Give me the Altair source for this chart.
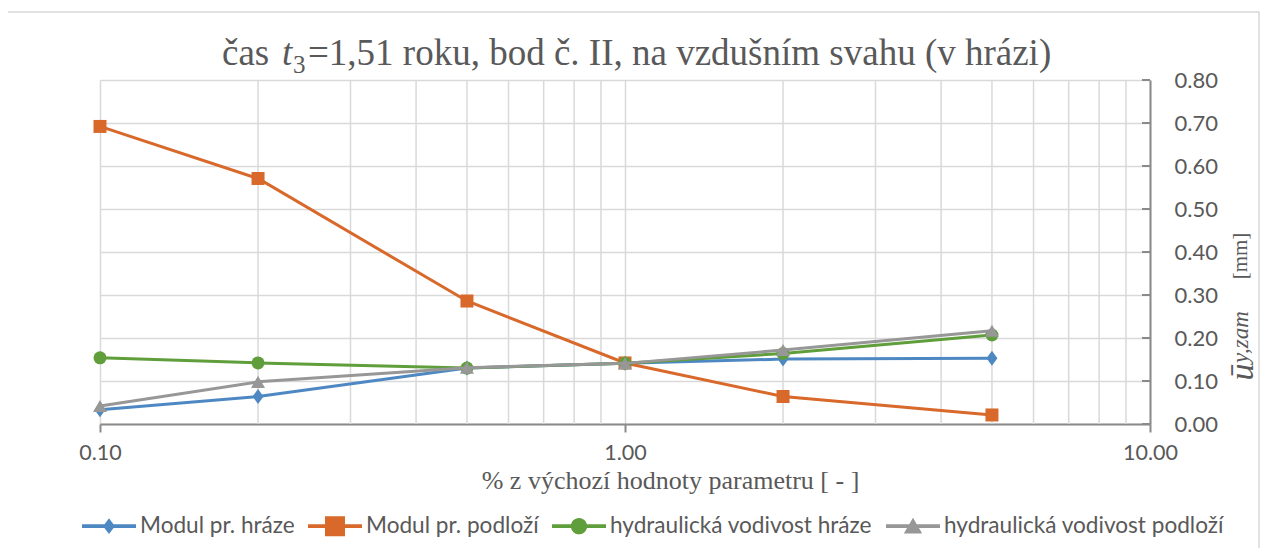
import altair as alt
import pandas as pd

# ---------------- data ----------------
x_values = [0.1, 0.2, 0.5, 1.0, 2.0, 5.0]
series_names = ["Modul pr. hráze", "Modul pr. podloží",
                "hydraulická vodivost hráze", "hydraulická vodivost podloží"]
modul_hraze = [0.033, 0.064, 0.130, 0.141, 0.151, 0.153]
modul_podlozi = [0.692, 0.571, 0.286, 0.142, 0.064, 0.021]
vodivost_hraze = [0.154, 0.142, 0.130, 0.141, 0.164, 0.207]
vodivost_podlozi = [0.042, 0.098, 0.131, 0.141, 0.172, 0.217]
series_values = [modul_hraze, modul_podlozi, vodivost_hraze, vodivost_podlozi]
series_colors = ["#4E88C3", "#D8692A", "#5F9E3A", "#979797"]

x_decades = [0.1, 1.0, 10.0]
x_minor = [0.2, 0.3, 0.4, 0.5, 0.6, 0.7, 0.8, 0.9, 2, 3, 4, 5, 6, 7, 8, 9]
y_ticks = [0.0, 0.1, 0.2, 0.3, 0.4, 0.5, 0.6, 0.7, 0.8]

title_parts = ["čas", "t", "3", "=1,51 roku, bod č. II, na vzdušním svahu (v hrázi)"]
x_title = "% z výchozí hodnoty parametru [ - ]"
y_title_parts = ["ū", "y,zam", "[mm]"]

# ---------------- styles ----------------
W, H = 1050, 344
TXT = "#595959"
AX = "#8a8a8a"
GRID = "#d9d9d9"
SANS = "Lato"
SERIF = "Liberation Serif"

plot_shapes = ["M0,-1L0.73,0L0,1L-0.73,0Z", "square", "circle", "triangle-up"]
plot_sizes = [225, 169, 169, 196]
LEG_SIZE = 2916
line_path = "M-1,-0.07H1V0.07H-1Z"
legend_paths = [
    line_path + "M0,-0.29L0.22,0L0,0.29L-0.22,0Z",
    line_path + "M-0.37,-0.37H0.37V0.37H-0.37Z",
    line_path + "M-0.3,0A0.3,0.3,0,1,1,0.3,0A0.3,0.3,0,1,1,-0.3,0Z",
    line_path + "M0,-0.31L0.34,0.27L-0.34,0.27Z",
]

rows = []
for name, vals in zip(series_names, series_values):
    for xv, yv in zip(x_values, vals):
        rows.append({"x": xv, "y": yv, "series": name})
df = pd.DataFrame(rows)

xs = alt.Scale(type="log", domain=[0.1, 10])
ys = alt.Scale(domain=[0, 0.8])

x_axis = alt.Axis(
    values=x_decades, format=".2f", grid=True, gridColor=GRID, gridWidth=1.5,
    domainColor=AX, domainWidth=2, tickColor=AX, tickWidth=2, tickSize=8,
    labelFont=SANS, labelFontSize=21.5, labelColor=TXT, labelPadding=27,
    labelBaseline="alphabetic", labelFlush=False, labelOverlap=False,
    title=x_title, titleFont=SERIF, titleFontSize=26, titleFontWeight="normal",
    titleColor=TXT, titleX=570, titleY=64, titleBaseline="alphabetic", titleAlign="center",
)
y_axis = alt.Axis(
    orient="right", values=y_ticks, format=".2f", grid=True, gridColor=GRID, gridWidth=1.5,
    domainColor=AX, domainWidth=2, ticks=False,
    labelFont=SANS, labelFontSize=22, labelColor=TXT, labelPadding=24, labelFlush=False,
    title="",
)


def X(field):
    return alt.X(field, scale=xs, axis=x_axis)


def Y(field):
    return alt.Y(field, scale=ys, axis=y_axis)


layers = []

# minor vertical grid
layers.append(
    alt.Chart(pd.DataFrame({"x": x_minor})).mark_rule(color=GRID, strokeWidth=1.5).encode(
        x=X("x:Q"), y=alt.value(0), y2=alt.value(H)
    )
)
# inward y ticks
layers.append(
    alt.Chart(pd.DataFrame({"y": y_ticks})).mark_rule(color=AX, strokeWidth=2).encode(
        y=Y("y:Q"), x=alt.value(W - 8), x2=alt.value(W)
    )
)

for name, col, shp, sz in zip(series_names, series_colors, plot_shapes, plot_sizes):
    base = alt.Chart(df).transform_filter(alt.datum.series == name)
    layers.append(
        base.mark_line(color=col, strokeWidth=3).encode(x=X("x:Q"), y=Y("y:Q"))
    )
    layers.append(
        base.mark_point(shape=shp, filled=True, size=sz, color=col, opacity=1).encode(
            x=X("x:Q"), y=Y("y:Q")
        )
    )

leg = alt.Legend(
    title=None, orient="none", legendX=-18, legendY=419, direction="horizontal",
    symbolSize=LEG_SIZE, symbolStrokeWidth=0, labelFont=SANS, labelFontSize=22.6,
    labelColor=TXT, labelOffset=4, columnPadding=13, labelLimit=600, padding=0,
)
layers.append(
    alt.Chart(df).transform_filter("false").mark_point(filled=True, opacity=1, size=LEG_SIZE).encode(
        x=X("x:Q"),
        y=Y("y:Q"),
        color=alt.Color("series:N", scale=alt.Scale(domain=series_names, range=series_colors), legend=leg),
        shape=alt.Shape("series:N", scale=alt.Scale(domain=series_names, range=legend_paths), legend=leg),
    )
)


def txt(s, x, y, size, style="normal", font=SERIF, angle=0, align="left"):
    kw = dict(font=font, fontSize=size, fontStyle=style, color=TXT, align=align,
              baseline="alphabetic")
    if angle:
        kw["angle"] = angle
    return alt.Chart(pd.DataFrame({"t": [s]})).mark_text(**kw).encode(
        text="t:N", x=alt.value(x), y=alt.value(y)
    )


# chart title (mixed styles)
layers.append(txt(title_parts[0], 122, -15, 37))
layers.append(txt(title_parts[1], 182, -15, 37, style="italic"))
layers.append(txt(title_parts[2], 193, -7, 25))
layers.append(txt(title_parts[3], 208, -15, 37))

# y-axis title (rotated)
layers.append(txt(y_title_parts[0], 1153, 292, 34, style="italic", angle=270, align="center"))
layers.append(txt(y_title_parts[1], 1148, 257, 23, style="italic", angle=270, align="center"))
layers.append(txt(y_title_parts[2], 1147, 176, 21, angle=270, align="center"))

# chart border
layers.append(
    alt.Chart(pd.DataFrame({"a": [0]})).mark_rect(fillOpacity=0, stroke="#d9d9d9", strokeWidth=1.5).encode(
        x=alt.value(-93), x2=alt.value(1159), y=alt.value(-68), y2=alt.value(480)
    )
)

chart = alt.layer(*layers).properties(
    width=W, height=H,
    autosize=alt.AutoSizeParams(type="none"),
    padding={"left": 92, "top": 72, "right": 110, "bottom": 124},
).configure_view(strokeWidth=0).configure(background="white")

chart.save("out.html", embed_options={"renderer": "svg", "actions": False})
